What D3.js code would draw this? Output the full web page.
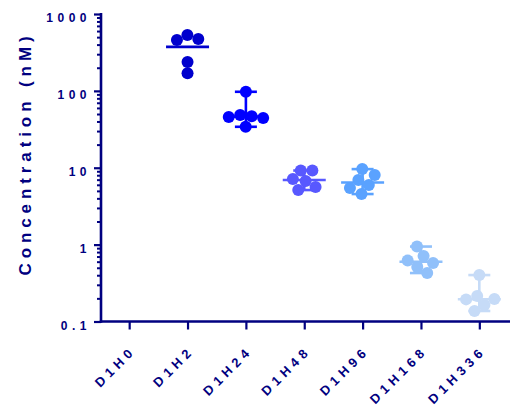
<!DOCTYPE html>
<html>
<head>
<meta charset="utf-8">
<script src="https://cdn.jsdelivr.net/npm/d3@7"></script>
<style>
  html, body { margin: 0; padding: 0; background: #ffffff; }
  svg { display: block; font-family: "Liberation Sans", Arial, sans-serif; font-weight: bold; }
</style>
</head>
<body>
<svg id="chart" width="513" height="412"></svg>
<script>
// Sampling time points
const categories = ["D1H0", "D1H2", "D1H24", "D1H48", "D1H96", "D1H168", "D1H336"];

// Individual concentrations (nM) per time point
const concD1H0   = [];
const concD1H2   = [532, 472, 458, 237, 170];
const concD1H24  = [97.3, 48.4, 45.6, 34.1, 44.3, 46.8];
const concD1H48  = [9.2, 9.2, 6.71, 5.13, 7.13, 5.61];
const concD1H96  = [9.6, 8.04, 6.92, 5.96, 4.55, 5.45];
const concD1H168 = [0.944, 0.709, 0.576, 0.621, 0.511, 0.427];
const concD1H336 = [0.402, 0.215, 0.196, 0.194, 0.164, 0.137];

// Summary shown per time point: centre line kind, and whether the range is drawn
const centreKind = ["none", "mean", "median", "median", "median", "median", "median"];
const showRange  = [false, false, true, true, true, true, true];

// Y axis ticks
const yTickValues = [0.1, 1, 10, 100, 1000];
const yTickLabels = ["0.1", "1", "10", "100", "1000"];

const groups = [concD1H0, concD1H2, concD1H24, concD1H48, concD1H96, concD1H168, concD1H336];
const groupColors = ["#0000cd", "#0000cd", "#0000ff", "#5858ff", "#5aa2ff", "#90c0fa", "#c6dbf7"];
const ink = "#000080";
const pointR = 6;

const svg = d3.select("#chart");

const y = d3.scaleLog().domain([0.1, 1000]).range([321.5, 14]);
const x = d3.scalePoint().domain(categories).range([100, 508.5]).padding(0.5);
const axisX0 = 101, axisX1 = 510;

// ---- Y axis: minor ticks, then major ticks with labels
const minorTicks = y.ticks().filter(v => !yTickValues.includes(v));
const yMinor = svg.append("g").attr("transform", `translate(${axisX0},0)`)
  .call(d3.axisLeft(y).tickValues(minorTicks).tickSize(4).tickFormat(""));
yMinor.select(".domain").remove();
yMinor.selectAll(".tick line").attr("stroke", ink).attr("stroke-width", 2);

const yMajor = svg.append("g").attr("transform", `translate(${axisX0},0)`)
  .call(d3.axisLeft(y).tickValues(yTickValues).tickSize(7).tickPadding(3)
    .tickFormat((d, i) => yTickLabels[i]));
yMajor.select(".domain").remove();
yMajor.selectAll(".tick line").attr("stroke", ink).attr("stroke-width", 2.2);
yMajor.selectAll(".tick text")
  .attr("fill", ink).attr("font-size", 12).attr("font-weight", "bold")
  .attr("font-family", "'Liberation Sans', Arial, sans-serif")
  .attr("letter-spacing", 4.5).attr("dy", "0.64em");

// ---- X axis
const xAxis = svg.append("g").attr("transform", `translate(0,${y(0.1)})`)
  .call(d3.axisBottom(x).tickSize(8).tickFormat(""));
xAxis.select(".domain").remove();
xAxis.selectAll(".tick line").attr("stroke", ink).attr("stroke-width", 2.2);

xAxis.selectAll(".tick").append("text")
  .attr("fill", ink).attr("font-size", 13).attr("font-weight", "bold")
  .attr("font-family", "'Liberation Sans', Arial, sans-serif")
  .attr("letter-spacing", 4.6)
  .attr("text-anchor", "end")
  .attr("transform", "translate(7,30) rotate(-45)")
  .text(d => d);

// Axis lines
svg.append("line")
  .attr("x1", axisX0).attr("x2", axisX0).attr("y1", y(1000) - 1).attr("y2", y(0.1) + 1.2)
  .attr("stroke", ink).attr("stroke-width", 2.6);
svg.append("line")
  .attr("x1", axisX0 - 1.2).attr("x2", axisX1).attr("y1", y(0.1)).attr("y2", y(0.1))
  .attr("stroke", ink).attr("stroke-width", 2.6);

// Y axis title
svg.append("text")
  .attr("transform", `translate(30.5,153.5) rotate(-90)`)
  .attr("text-anchor", "middle")
  .attr("fill", ink).attr("font-size", 17).attr("font-weight", "bold")
  .attr("letter-spacing", 4.9)
  .text("Concentration (nM)");

// ---- Spread points horizontally within each column (beeswarm)
function swarm(values, cx) {
  const nodes = values.map(v => ({ v, x: cx, y: y(v), fy: y(v) }));
  const sim = d3.forceSimulation(nodes)
    .force("x", d3.forceX(cx).strength(0.05))
    .force("collide", d3.forceCollide(5.8).iterations(3))
    .stop();
  for (let i = 0; i < 300; i++) sim.tick();
  return nodes;
}

const plot = svg.append("g");

groups.forEach((vals, gi) => {
  if (!vals.length) return;
  const cx = x(categories[gi]);
  const col = groupColors[gi];
  const g = plot.append("g");

  // range whiskers
  if (showRange[gi]) {
    const [lo, hi] = d3.extent(vals);
    g.append("line").attr("x1", cx).attr("x2", cx).attr("y1", y(hi)).attr("y2", y(lo))
      .attr("stroke", col).attr("stroke-width", 2.6);
    [lo, hi].forEach(v => {
      g.append("line").attr("x1", cx - 11).attr("x2", cx + 11).attr("y1", y(v)).attr("y2", y(v))
        .attr("stroke", col).attr("stroke-width", 2.6);
    });
  }

  // points
  g.selectAll("circle").data(swarm(vals, cx)).join("circle")
    .attr("cx", d => d.x).attr("cy", d => d.y).attr("r", pointR)
    .attr("fill", col);

  // centre line (mean or median)
  if (centreKind[gi] !== "none") {
    const c = centreKind[gi] === "mean" ? d3.mean(vals) : d3.median(vals);
    g.append("line").attr("x1", cx - 21.5).attr("x2", cx + 21.5).attr("y1", y(c)).attr("y2", y(c))
      .attr("stroke", col).attr("stroke-width", 2.6);
  }
});
</script>
</body>
</html>
